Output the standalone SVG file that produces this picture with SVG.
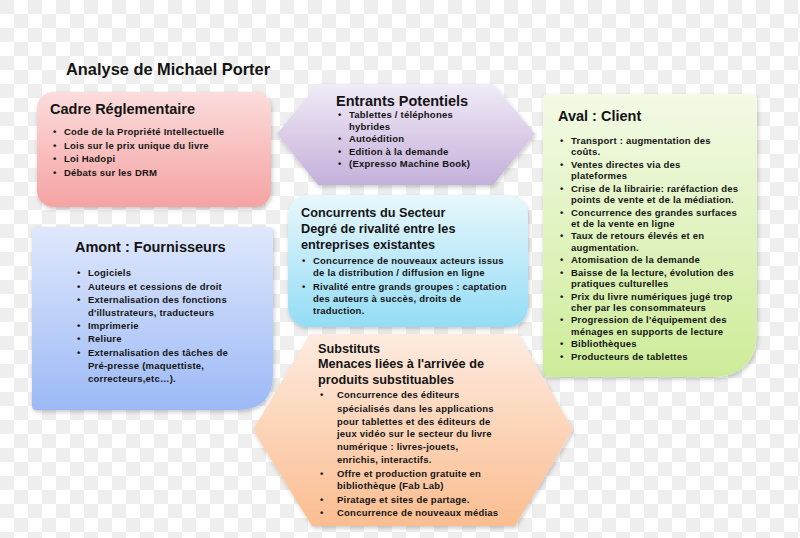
<svg xmlns="http://www.w3.org/2000/svg" width="800" height="538" viewBox="0 0 800 538">
<defs>
<pattern id="chk" width="28" height="28" patternUnits="userSpaceOnUse">
<rect width="28" height="28" fill="#ffffff"/>
<rect x="0" y="0" width="14" height="14" fill="#eeeeee"/>
<rect x="14" y="14" width="14" height="14" fill="#eeeeee"/>
</pattern>
<linearGradient id="gPink" x1="0" y1="0" x2="0" y2="1">
<stop offset="0" stop-color="#fcdcdc"/>
<stop offset="1" stop-color="#f5a3a3"/>
</linearGradient>
<linearGradient id="gPurple" x1="0" y1="0" x2="0" y2="1">
<stop offset="0" stop-color="#f1ebf7"/>
<stop offset="1" stop-color="#c4b0da"/>
</linearGradient>
<linearGradient id="gGreen" x1="0" y1="0" x2="0" y2="1">
<stop offset="0" stop-color="#f3fae6"/>
<stop offset="1" stop-color="#cdec98"/>
</linearGradient>
<linearGradient id="gBlue" x1="0" y1="0" x2="0" y2="1">
<stop offset="0" stop-color="#dfe8fc"/>
<stop offset="1" stop-color="#9cb9f6"/>
</linearGradient>
<linearGradient id="gCyan" x1="0" y1="0" x2="0" y2="1">
<stop offset="0" stop-color="#e8f7fc"/>
<stop offset="1" stop-color="#93dcf5"/>
</linearGradient>
<linearGradient id="gPeach" x1="0" y1="0" x2="0" y2="1">
<stop offset="0" stop-color="#fdebdf"/>
<stop offset="1" stop-color="#fbbd90"/>
</linearGradient>
<filter id="sh" x="-10%" y="-10%" width="120%" height="125%">
<feDropShadow dx="1" dy="2" stdDeviation="2" flood-color="#000" flood-opacity="0.22"/>
</filter>
</defs>
<style>
.t{font-family:"Liberation Sans",Arial,sans-serif;fill:#141414;}
.title{font-size:16.4px;font-weight:bold;}
.h{font-size:14.5px;font-weight:bold;}
.h2{font-size:12.7px;font-weight:bold;}
.i{font-size:9.5px;font-weight:bold;letter-spacing:0.22px;}
</style>
<rect width="800" height="538" fill="url(#chk)"/>

<text class="t title" x="66" y="75">Analyse de Michael Porter</text>

<g id="cadre">
<rect x="37" y="92" width="234" height="115" rx="16" fill="url(#gPink)" filter="url(#sh)"/>
<text class="t h" x="50" y="114">Cadre Réglementaire</text>
<g class="t i">
<text x="53" y="135">•</text><text x="64" y="135">Code de la Propriété Intellectuelle</text>
<text x="53" y="149">•</text><text x="64" y="149">Lois sur le prix unique du livre</text>
<text x="53" y="162">•</text><text x="64" y="162">Loi Hadopi</text>
<text x="53" y="176">•</text><text x="64" y="176">Débats sur les DRM</text>
</g>
</g>

<g id="entrants">
<polygon points="277,134 318,84 493,84 535,134 493,185 318,185" fill="url(#gPurple)" filter="url(#sh)"/>
<text class="t h" x="336" y="106">Entrants Potentiels</text>
<g class="t i">
<text x="338" y="118">•</text><text x="349" y="118">Tablettes / téléphones</text>
<text x="349" y="129.5">hybrides</text>
<text x="338" y="142">•</text><text x="349" y="142">Autoédition</text>
<text x="338" y="154.5">•</text><text x="349" y="154.5">Edition à la demande</text>
<text x="338" y="167">•</text><text x="349" y="167">(Expresso Machine Book)</text>
</g>
</g>

<g id="aval">
<path d="M548,94 H752 Q757,94 757,99 V331 Q757,377 711,377 H548 Q543,377 543,372 V99 Q543,94 548,94 Z" fill="url(#gGreen)" filter="url(#sh)"/>
<text class="t h" x="558" y="121">Aval : Client</text>
<g class="t i">
<text x="560" y="144">•</text><text x="571" y="144">Transport : augmentation des</text>
<text x="571" y="155">coûts.</text>
<text x="560" y="168">•</text><text x="571" y="168">Ventes directes via des</text>
<text x="571" y="179">plateformes</text>
<text x="560" y="192">•</text><text x="571" y="192">Crise de la librairie: raréfaction des</text>
<text x="571" y="203">points de vente et de la médiation.</text>
<text x="560" y="216">•</text><text x="571" y="216">Concurrence des grandes surfaces</text>
<text x="571" y="227">et de la vente en ligne</text>
<text x="560" y="239">•</text><text x="571" y="239">Taux de retours élevés et en</text>
<text x="571" y="251">augmentation.</text>
<text x="560" y="263">•</text><text x="571" y="263">Atomisation de la demande</text>
<text x="560" y="276">•</text><text x="571" y="276">Baisse de la lecture, évolution des</text>
<text x="571" y="287">pratiques culturelles</text>
<text x="560" y="300">•</text><text x="571" y="300">Prix du livre numériques jugé trop</text>
<text x="571" y="311">cher par les consommateurs</text>
<text x="560" y="323">•</text><text x="571" y="323">Progression de l'équipement des</text>
<text x="571" y="334.5">ménages en supports de lecture</text>
<text x="560" y="347">•</text><text x="571" y="347">Bibliothèques</text>
<text x="560" y="360">•</text><text x="571" y="360">Producteurs de tablettes</text>
</g>
</g>

<g id="amont">
<path d="M37,227 H269 Q273,227 273,231 V374 Q273,410 237,410 H36 Q32,410 32,406 V232 Q32,227 37,227 Z" fill="url(#gBlue)" filter="url(#sh)"/>
<text class="t h" x="75" y="252">Amont : Fournisseurs</text>
<g class="t i">
<text x="77" y="276">•</text><text x="88" y="276">Logiciels</text>
<text x="77" y="289.5">•</text><text x="88" y="289.5">Auteurs et cessions de droit</text>
<text x="77" y="303">•</text><text x="88" y="303">Externalisation des fonctions</text>
<text x="88" y="315.5">d'illustrateurs, traducteurs</text>
<text x="77" y="329">•</text><text x="88" y="329">Imprimerie</text>
<text x="77" y="342">•</text><text x="88" y="342">Reliure</text>
<text x="77" y="356">•</text><text x="88" y="356">Externalisation des tâches de</text>
<text x="88" y="368.5">Pré-presse (maquettiste,</text>
<text x="88" y="381.5">correcteurs,etc…).</text>
</g>
</g>

<g id="concurrents">
<rect x="288" y="195" width="240" height="132" rx="20" fill="url(#gCyan)" filter="url(#sh)"/>
<text class="t h2" x="301" y="217">Concurrents du Secteur</text>
<text class="t h2" x="301" y="233">Degré de rivalité entre les</text>
<text class="t h2" x="301" y="249">entreprises existantes</text>
<g class="t i">
<text x="302" y="264">•</text><text x="313" y="264">Concurrence de nouveaux acteurs issus</text>
<text x="313" y="276">de la distribution / diffusion en ligne</text>
<text x="302" y="290">•</text><text x="313" y="290">Rivalité entre grands groupes : captation</text>
<text x="313" y="302">des auteurs à succès, droits de</text>
<text x="313" y="314">traduction.</text>
</g>
</g>

<g id="substituts">
<polygon points="253,430 310,334 518,334 573,430 515,526 312,526" fill="url(#gPeach)" filter="url(#sh)"/>
<text class="t h2" x="318" y="353">Substituts</text>
<text class="t h2" x="318" y="368">Menaces liées à l'arrivée de</text>
<text class="t h2" x="318" y="384">produits substituables</text>
<g class="t i">
<text x="320" y="398">•</text><text x="337" y="398">Concurrence des éditeurs</text>
<text x="337" y="411.5">spécialisés dans les applications</text>
<text x="337" y="424.5">pour tablettes et des éditeurs de</text>
<text x="337" y="437">jeux vidéo sur le secteur du livre</text>
<text x="337" y="450">numérique : livres-jouets,</text>
<text x="337" y="463">enrichis, interactifs.</text>
<text x="320" y="477">•</text><text x="337" y="477">Offre et production gratuite en</text>
<text x="337" y="489">bibliothèque (Fab Lab)</text>
<text x="320" y="503">•</text><text x="337" y="503">Piratage et sites de partage.</text>
<text x="320" y="516">•</text><text x="337" y="516">Concurrence de nouveaux médias</text>
</g>
</g>
</svg>
